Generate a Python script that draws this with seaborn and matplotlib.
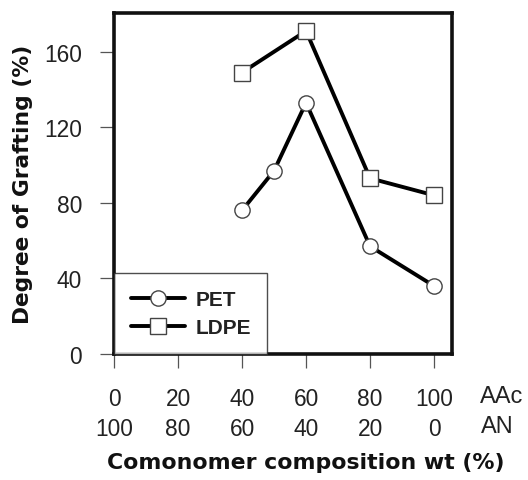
import matplotlib
matplotlib.use("Agg")
import matplotlib.pyplot as plt
import seaborn as sns
import pandas as pd

# data
pet_x = [40, 50, 60, 80, 100]
pet_y = [76, 97, 133, 57, 36]
ldpe_x = [40, 60, 80, 100]
ldpe_y = [149, 171, 93, 84]
aac_ticks = [0, 20, 40, 60, 80, 100]
an_ticks = [100, 80, 60, 40, 20, 0]
y_ticks = [0, 40, 80, 120, 160]

sns.set_style("white")
plt.rcParams['font.family'] = ['Liberation Sans', 'DejaVu Sans']

fig = plt.figure(figsize=(5.28, 4.81), dpi=100)
ax = fig.add_axes([114/528, 1-355/481, (452-114)/528, (355-14)/481])

df_pet = pd.DataFrame({"x": pet_x, "y": pet_y})
df_ldpe = pd.DataFrame({"x": ldpe_x, "y": ldpe_y})

sns.lineplot(data=df_pet, x="x", y="y", ax=ax, color="black", lw=2.8,
             marker="o", markersize=11, markerfacecolor="white",
             markeredgecolor="#444444", markeredgewidth=1.0, label="PET")
sns.lineplot(data=df_ldpe, x="x", y="y", ax=ax, color="black", lw=2.8,
             marker="s", markersize=11, markerfacecolor="white",
             markeredgecolor="#444444", markeredgewidth=1.0, label="LDPE")

ax.set_xlim(0, 105.6)
ax.set_ylim(0, 180.5)
ax.set_yticks(y_ticks)
ax.set_yticklabels([str(v) for v in y_ticks], fontsize=16.4, color='#222222')
ax.set_xticks(aac_ticks)
ax.set_xticklabels([f"{a}\n{b}" for a, b in zip(aac_ticks, an_ticks)],
                   fontsize=16.4, color='#222222')
for lab in ax.get_xticklabels():
    lab.set_linespacing(1.4)
ax.tick_params(axis='y', direction='out', length=10, width=0.9, color='#555555',
               pad=13, left=True)
ax.tick_params(axis='x', direction='out', length=10, width=0.9, color='#555555',
               pad=13.5, bottom=True)
ax.set_xlabel("")
ax.set_ylabel("Degree of Grafting (%)", fontsize=15.7, fontweight='bold',
              family='DejaVu Sans', color='#111111')
ax.yaxis.set_label_coords((33-114)/338, 0.5)

for s in ['left', 'bottom', 'top', 'right']:
    ax.spines[s].set_linewidth(2.6)
    ax.spines[s].set_color('#111111')

leg = ax.legend(loc='lower left', fontsize=15, frameon=True, fancybox=False,
                borderaxespad=0.0, handlelength=2.6, borderpad=0.8,
                labelspacing=0.45, handletextpad=0.5)
leg.get_frame().set_edgecolor('#222222')
leg.get_frame().set_linewidth(1.0)
for t in leg.get_texts():
    t.set_fontweight('bold')
    t.set_color('#222222')

fig.text(480/528, 1-397/481, "AAc", fontsize=17, ha='left', va='center', color='#222222')
fig.text(481/528, 1-427/481, "AN", fontsize=17, ha='left', va='center', color='#222222')
fig.text(306/528, 1-463/481, "Comonomer composition wt (%)", fontsize=15.8,
         fontweight='bold', family='DejaVu Sans', ha='center', va='center',
         color='#111111')

fig.savefig("out.png", dpi=100)
